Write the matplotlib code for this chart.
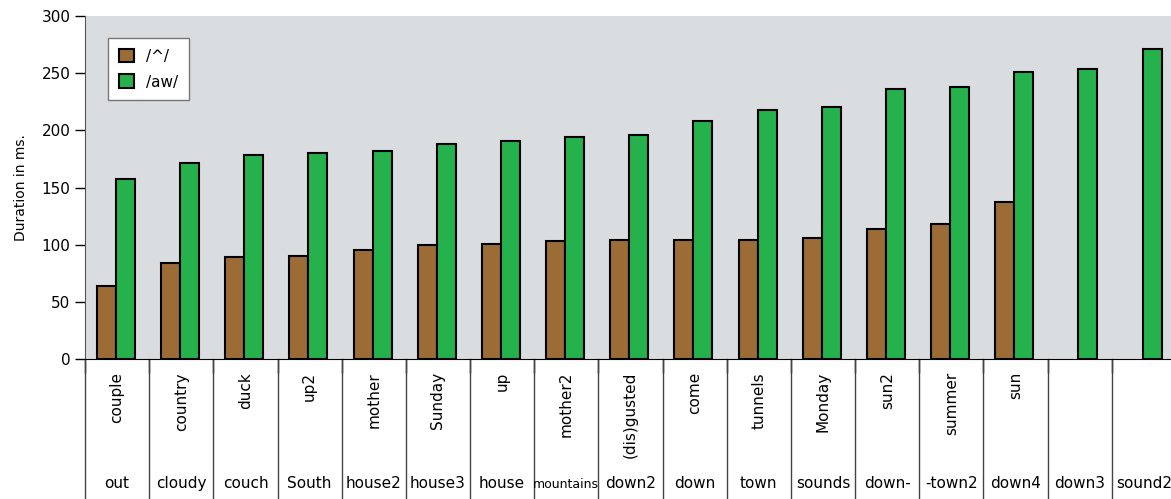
import numpy as np
import matplotlib
matplotlib.use('Agg')
import matplotlib.pyplot as plt
import matplotlib.transforms as mtransforms

# /^/ words (rotated) and /aw/ words (bottom row)
upper_words = ['couple', 'country', 'duck', 'up2', 'mother', 'Sunday', 'up', 'mother2',
               '(dis)gusted', 'come', 'tunnels', 'Monday', 'sun2', 'summer', 'sun', '', '']
lower_words = ['out', 'cloudy', 'couch', 'South', 'house2', 'house3', 'house', 'mountains',
               'down2', 'down', 'town', 'sounds', 'down-', '-town2', 'down4', 'down3', 'sound2']
uh_vals = [64, 84, 89, 90, 95, 100, 101, 103, 104, 104, 104, 106, 114, 118, 137]
aw_vals = [157, 171, 178, 180, 182, 188, 191, 194, 196, 208, 218, 220, 236, 238, 251, 254, 271]
yticks = [0, 50, 100, 150, 200, 250, 300]

brown = '#9c6c36'
green = '#25b24c'

W, H = 1171, 499
fig = plt.figure(figsize=(W / 100, H / 100), dpi=100)
plt.rcParams['font.family'] = 'DejaVu Sans'

# axes runs a little past the right edge like the original
left, right, top, bottom = 85, 1176, 16, 359
ax = fig.add_axes([left / W, 1 - bottom / H, (right - left) / W, (bottom - top) / H])
ax.set_facecolor('#dadde0')

n = len(aw_vals)
x = np.arange(n)
bw = 0.296
ax.bar(x[:len(uh_vals)] + 0.48 - bw / 2, uh_vals, width=bw, color=brown,
       edgecolor='black', linewidth=1.5, label='/^/', zorder=3)
ax.bar(x + 0.48 + bw / 2, aw_vals, width=bw, color=green,
       edgecolor='black', linewidth=1.5, label='/aw/', zorder=3)

ax.set_xlim(0, n)
ax.set_ylim(0, 300)
ax.set_yticks(yticks)
ax.tick_params(axis='y', direction='out', length=7, labelsize=11, width=1)
ax.set_xticks(x)
ax.set_xticklabels([])
ax.tick_params(axis='x', direction='out', length=10, width=1)
for s in ['top', 'right']:
    ax.spines[s].set_visible(False)
ax.spines['left'].set_color('#555555')
ax.spines['bottom'].set_color('black')
ax.set_ylabel('Duration in ms.', fontsize=10, labelpad=10)

trans = mtransforms.blended_transform_factory(ax.transData, ax.transAxes)
ybot = -(H - bottom) / (bottom - top)
for i in range(n):
    ax.plot([i, i], [0, ybot], color='#444444', lw=1, transform=trans, clip_on=False)
    cx = i + 0.5
    if upper_words[i]:
        ax.text(cx, -0.038, upper_words[i], rotation=90, ha='center', va='top',
                fontsize=11, transform=trans)
    fs = 9 if lower_words[i] == 'mountains' else 11
    ax.text(cx, -0.376, lower_words[i], ha='center', va='baseline',
            fontsize=fs, transform=trans)

leg = fig.legend(loc='upper left', bbox_to_anchor=(108 / W, 1 - 38 / H), fontsize=11,
                 fancybox=False, framealpha=1, edgecolor='#777777', borderaxespad=0,
                 handlelength=1.0, handleheight=1.0, borderpad=0.7, labelspacing=0.7)
leg.get_frame().set_linewidth(1)

fig.savefig('out.png', dpi=100)
